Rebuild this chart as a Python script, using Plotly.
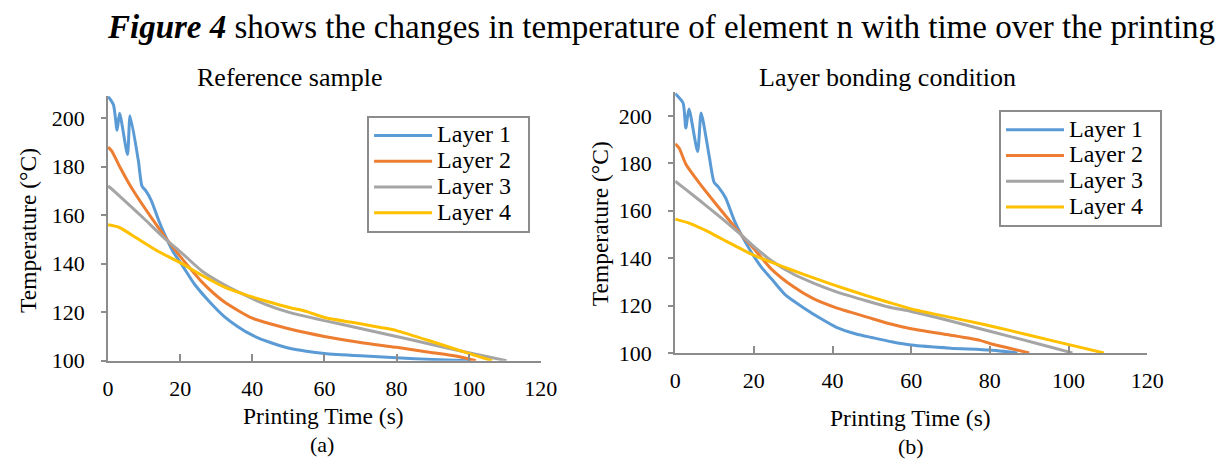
import plotly.graph_objects as go

# ---------------- data ----------------
# (a) Reference sample
t1_a = [0, 1.5, 2.5, 3.2, 5.4, 6.1, 8.4, 9.4, 10.5, 12, 14, 16, 18, 20.5, 24, 28, 32, 36, 40, 45, 50, 55, 60, 70, 80, 90, 100]
T1_a = [209, 205.5, 195, 202, 185, 201, 182.5, 172, 170, 166, 158, 151, 145, 139.5, 131.5, 124.5, 118.5, 114, 110.5, 107.5, 105.2, 103.9, 103, 102, 101.2, 100.5, 100]
t2_a = [0, 1, 3.4, 6, 9, 12, 16, 20, 26, 32, 40, 48, 55, 60, 70, 80, 90, 96, 102]
T2_a = [188, 186.5, 179.5, 172.5, 165.5, 159, 150.5, 143, 132.5, 124.5, 117.5, 114, 111.5, 110, 107.5, 105.5, 103.3, 102, 100]
t3_a = [0, 2, 6, 10, 16, 20, 26, 32, 38, 44, 50, 60, 70, 80, 90, 100, 110.5]
T3_a = [172, 169.5, 164, 158.5, 150, 145, 137, 131.5, 127, 123, 120, 116.5, 113.3, 110, 106.6, 103.3, 100]
t4_a = [0, 3, 8, 14, 20.5, 26, 32, 38, 44, 50, 55, 60, 70, 76, 80, 90, 100, 106.5]
T4_a = [156, 155, 150.5, 145, 140, 135.2, 130.5, 127.2, 124.5, 122, 120.3, 117.8, 115.2, 113.6, 112.4, 107.8, 103, 100]

# (b) Layer bonding condition
t1_b = [0, 2, 2.7, 3.5, 5.7, 6.6, 8.6, 9.9, 11, 12.8, 15, 17, 19.4, 22, 24.4, 28, 32.7, 37, 41, 46, 50, 55, 60, 70, 80, 87]
T1_b = [209.5, 205.5, 195, 203, 185, 201.3, 183.5, 172, 170, 165.5, 156, 149.3, 142.4, 136, 131.4, 124.5, 119, 114.5, 110.8, 108, 106.5, 104.7, 103.3, 102, 101.2, 100]
t2_b = [0, 1, 2.8, 6, 10.3, 14, 17, 20, 24.4, 30, 35, 41, 49, 54, 60, 70, 77.5, 80, 85, 90]
T2_b = [188.3, 186.5, 179.4, 172, 163, 155.5, 149.5, 144, 135.5, 128, 123, 119, 115, 112.5, 110.2, 107.5, 105.3, 104, 102, 100]
t3_b = [0, 3, 8, 12, 17, 20, 24.4, 30, 35, 41, 49, 54, 60, 70, 77.5, 85, 92, 101]
T3_b = [172.5, 168.6, 162, 156.6, 149.5, 145, 139, 133.3, 129.6, 125.8, 121.8, 119.5, 117.5, 113.5, 110.2, 107, 104, 100]
t4_b = [0, 3.7, 8, 12, 19.4, 24.4, 30, 35, 41, 49, 54, 60, 70, 78, 85, 95, 109]
T4_b = [156.5, 154.7, 151.5, 148, 141.7, 138.3, 134.8, 131.8, 128.3, 124, 121.5, 118.6, 115, 112.2, 109.5, 105.5, 100]

layer_names = ["Layer 1", "Layer 2", "Layer 3", "Layer 4"]
colors = ["#5B9BD5", "#ED7D31", "#A5A5A5", "#FFC000"]
x_ticks = [0, 20, 40, 60, 80, 100, 120]
y_ticks = [100, 120, 140, 160, 180, 200]

FONT = "Liberation Serif, Times New Roman, serif"
W, H = 1225, 468

def legend_label(name):
    return f'<span style="font-size:24px">{name}&nbsp;&nbsp;</span>'

fig = go.Figure()
series_a = [(t1_a, T1_a), (t2_a, T2_a), (t3_a, T3_a), (t4_a, T4_a)]
series_b = [(t1_b, T1_b), (t2_b, T2_b), (t3_b, T3_b), (t4_b, T4_b)]
for i, (x, y) in enumerate(series_a):
    fig.add_trace(go.Scatter(x=x, y=y, mode="lines", name=legend_label(layer_names[i]),
                             line=dict(color=colors[i], width=3, shape="spline", smoothing=0.6),
                             xaxis="x", yaxis="y", legend="legend"))
for i, (x, y) in enumerate(series_b):
    fig.add_trace(go.Scatter(x=x, y=y, mode="lines", name=legend_label(layer_names[i]),
                             line=dict(color=colors[i], width=3, shape="spline", smoothing=0.6),
                             xaxis="x2", yaxis="y2", legend="legend2"))

def px_x(p):
    return p / W

def px_y(p):
    return 1 - p / H

axis_common = dict(showline=True, linecolor="#8C8C8C", linewidth=2, showgrid=False, zeroline=False,
                   tickfont=dict(family=FONT, size=22, color="black"), tickcolor="#8C8C8C", tickwidth=2)

legend_common = dict(xanchor="left", yanchor="top", bgcolor="white", bordercolor="#8C8C8C",
                     borderwidth=2, font=dict(family=FONT, size=17.5, color="black"), itemwidth=58)

fig.update_layout(
    width=W, height=H, margin=dict(l=0, r=0, t=0, b=0),
    paper_bgcolor="white", plot_bgcolor="white",
    xaxis=dict(domain=[px_x(104), px_x(545)], range=[0, 120], tickvals=x_ticks, ticks="inside", ticklen=7,
               anchor="y", ticklabelstandoff=7, **axis_common),
    yaxis=dict(domain=[px_y(371), px_y(99)], range=[100, 209], tickvals=y_ticks, ticks="outside", ticklen=5,
               anchor="x", ticklabelstandoff=12, **axis_common),
    xaxis2=dict(domain=[px_x(682), px_x(1163)], range=[0, 120], tickvals=x_ticks, ticks="inside", ticklen=7,
                anchor="y2", ticklabelstandoff=7, **axis_common),
    yaxis2=dict(domain=[px_y(363), px_y(95)], range=[100, 210], tickvals=y_ticks, ticks="outside", ticklen=5,
                anchor="x2", ticklabelstandoff=12, **axis_common),
    legend=dict(x=px_x(368), y=px_y(119), **legend_common),
    legend2=dict(x=px_x(1012), y=px_y(113), **legend_common),
    showlegend=True,
)

def ann(text, x, y, size, angle=0, xanchor="center"):
    fig.add_annotation(text=text, x=px_x(x), y=px_y(y), xref="paper", yref="paper",
                       xanchor=xanchor, yanchor="middle", showarrow=False, textangle=angle,
                       font=dict(family=FONT, size=size, color="black"))

ann("<b><i>Figure 4</i></b> shows the changes in temperature of element n with time over the printing",
    101, 28, 33, xanchor="left")
ann("Reference sample", 289, 80, 26)
ann("Layer bonding condition", 898, 80, 26)
ann("Temperature (°C)", 23, 237, 23.5, angle=-90)
ann("Temperature (°C)", 605, 230, 23.5, angle=-90)
ann("Printing Time (s)", 324, 428, 23.5)
ann("Printing Time (s)", 922, 430, 23.5)
ann("(a)", 322, 457, 22)
ann("(b)", 922, 459, 22)

fig.write_html("out.html")
